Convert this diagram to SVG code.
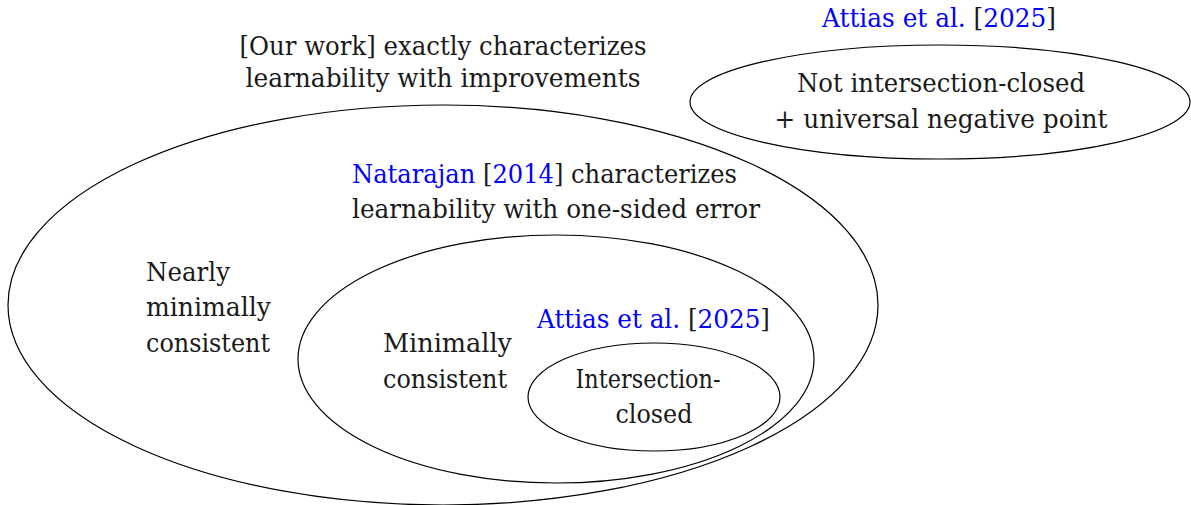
<svg xmlns="http://www.w3.org/2000/svg" width="1191" height="505" viewBox="0 0 1191 505">
<style>
.e{fill:none;stroke:#000;stroke-width:1.2}
text{font-family:'DejaVu Serif',serif;font-size:26px;fill:#1a1a1a}
.b{fill:#0000ff}
.m{text-anchor:middle}
</style>
<rect width="1191" height="505" fill="#fff"/>
<g id="outer">
<ellipse class="e" cx="443" cy="305" rx="435" ry="200"/>
<text class="m" x="443" y="55" textLength="407" lengthAdjust="spacingAndGlyphs">[Our work] exactly characterizes</text>
<text class="m" x="443" y="87" textLength="395" lengthAdjust="spacingAndGlyphs">learnability with improvements</text>
<text x="146" y="281" textLength="84" lengthAdjust="spacingAndGlyphs">Nearly</text>
<text x="146" y="316" textLength="125" lengthAdjust="spacingAndGlyphs">minimally</text>
<text x="146" y="352" textLength="124" lengthAdjust="spacingAndGlyphs">consistent</text>
</g>
<g id="middle">
<ellipse class="e" cx="556" cy="359" rx="258" ry="124"/>
<text x="352" y="183" textLength="385" lengthAdjust="spacingAndGlyphs"><tspan class="b">Natarajan</tspan> [<tspan class="b">2014</tspan>] characterizes</text>
<text x="352" y="218" textLength="408" lengthAdjust="spacingAndGlyphs">learnability with one-sided error</text>
<text x="383" y="352" textLength="129" lengthAdjust="spacingAndGlyphs">Minimally</text>
<text x="383" y="388" textLength="124" lengthAdjust="spacingAndGlyphs">consistent</text>
</g>
<g id="inner">
<ellipse class="e" cx="654" cy="397" rx="126" ry="54"/>
<text x="537" y="328" textLength="233" lengthAdjust="spacingAndGlyphs"><tspan class="b">Attias et al.</tspan> [<tspan class="b">2025</tspan>]</text>
<text class="m" x="648" y="388" textLength="145" lengthAdjust="spacingAndGlyphs">Intersection-</text>
<text class="m" x="654" y="423" textLength="77" lengthAdjust="spacingAndGlyphs">closed</text>
</g>
<g id="topright">
<ellipse class="e" cx="940" cy="102" rx="250" ry="57"/>
<text x="822" y="27" textLength="234" lengthAdjust="spacingAndGlyphs"><tspan class="b">Attias et al.</tspan> [<tspan class="b">2025</tspan>]</text>
<text class="m" x="941" y="92" textLength="288" lengthAdjust="spacingAndGlyphs">Not intersection-closed</text>
<text class="m" x="941" y="128" textLength="333" lengthAdjust="spacingAndGlyphs">+ universal negative point</text>
</g>
<g id="connectors"/>
</svg>
